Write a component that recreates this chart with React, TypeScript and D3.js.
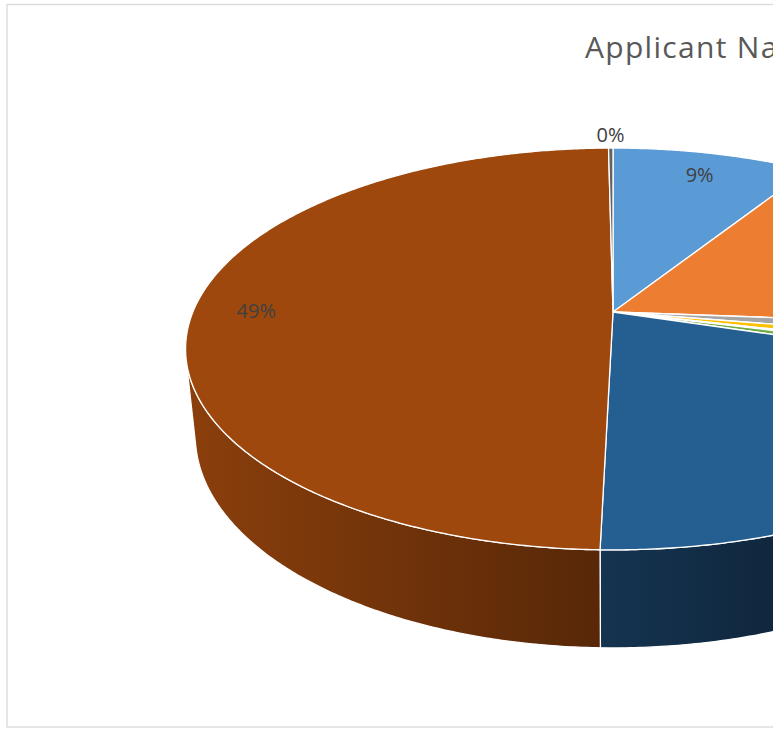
import * as d3 from "d3";

// slice values (percent of applicants), clockwise from 12 o'clock
const categories = ["Cat 1", "Cat 2", "Cat 3", "Cat 4", "Cat 5", "Cat 6", "Cat 7", "Cat 8", "Cat 9"];
const values = [9.0, 17.2, 1.4, 1.0, 0.3, 0.8, 20.7, 49.4, 0.2];
const titleText = "Applicant Nationality";

// office-style palette
const palette = ["#5B9BD5", "#ED7D31", "#A5A5A5", "#FFC000", "#4472C4", "#70AD47", "#255E91", "#9E480E", "#636363"];

const W = 781;
const H = 729;

/* 3d camera settings for the pie */
const cx = 613;
const cy = 312;
const focal = 2025;
const dist = 4.82;
const tilt = Math.asin(0.462);
const thick = 0.235;
const sinT = Math.sin(tilt);
const cosT = Math.cos(tilt);

// theta: clockwise from the back (top of screen), r: radius, y: height (0 top, -thick bottom)
function proj(theta: number, r: number, y: number): [number, number] {
  const X = r * Math.sin(theta);
  const Z = -r * Math.cos(theta);
  const xc = X;
  const yc = y * cosT - Z * sinT;
  const depth = dist - (y * sinT + Z * cosT);
  return [cx + (focal * xc) / depth, cy - (focal * yc) / depth];
}

function arcPoints(a0: number, a1: number, r: number, y: number) {
  const n = Math.max(2, Math.ceil(((a1 - a0) * 180) / Math.PI / 0.5));
  const pts: [number, number][] = [];
  for (let k = 0; k <= n; k++) pts.push(proj(a0 + ((a1 - a0) * k) / n, r, y));
  return pts;
}

function shade(col: string, f: number) {
  const c = d3.rgb(col);
  return d3.rgb(c.r * f, c.g * f, c.b * f).formatHex();
}

export default function App() {
  const pie = d3.pie<number>().sort(null).value((d) => d);
  const arcs = pie(values);
  const total = d3.sum(values);
  const line = d3.line();

  // the rim is only seen where its normal faces the camera
  const k = 1 / (dist * cosT);
  const vis0 = Math.acos(-k);
  const vis1 = 2 * Math.PI - vis0;

  const sides = arcs.map((a, i) => {
    const s0 = Math.max(a.startAngle, vis0);
    const s1 = Math.min(a.endAngle, vis1);
    if (s1 <= s0) return null;
    const top = arcPoints(s0, s1, 1, 0);
    const bot = arcPoints(s0, s1, 1, -thick).reverse();
    return (
      <path
        key={"s" + i}
        d={line([...top, ...bot]) + "Z"}
        fill={`url(#side${i})`}
        stroke="#fff"
        strokeWidth={1.3}
        strokeLinejoin="round"
      />
    );
  });

  const tops = arcs.map((a, i) => {
    const pts = [proj(0, 0, 0), ...arcPoints(a.startAngle, a.endAngle, 1, 0)];
    return (
      <path
        key={"t" + i}
        d={line(pts) + "Z"}
        fill={palette[i]}
        stroke="#fff"
        strokeWidth={1.3}
        strokeLinejoin="round"
      />
    );
  });

  const labels = arcs.map((a, i) => {
    const pct = (values[i] / total) * 100;
    const mid = (a.startAngle + a.endAngle) / 2;
    const r = pct < 3 ? 1.1 : 0.85;
    const [x, y] = proj(mid, r, 0);
    return (
      <text
        key={"l" + i}
        x={x}
        y={y}
        textAnchor="middle"
        dominantBaseline="central"
        fontSize={20}
        fill="#404040"
      >
        {Math.round(pct) + "%"}
      </text>
    );
  });

  return (
    <svg
      width={W}
      height={H}
      style={{ position: "absolute", left: 0, top: 0, background: "#fff" }}
      fontFamily="'Open Sans', sans-serif"
    >
      <defs>
        <clipPath id="cut">
          <rect x={0} y={0} width={773} height={H} />
        </clipPath>
        {palette.map((c, i) => (
          <linearGradient key={i} id={`side${i}`} gradientUnits="userSpaceOnUse" x1={185} x2={773} y1={0} y2={0}>
            <stop offset="0" stopColor={shade(c, 0.88)} />
            <stop offset="1" stopColor={shade(c, 0.42)} />
          </linearGradient>
        ))}
      </defs>
      <g clipPath="url(#cut)">
        <rect x={7} y={4.5} width={900} height={722.5} fill="#fff" stroke="#D9D9D9" strokeWidth={1.3} />
        <text x={585} y={58} fontSize={30} fill="#595959" letterSpacing={1.3}>
          {titleText}
        </text>
        {sides}
        {tops}
        {labels}
      </g>
      <title>{categories.join(", ")}</title>
    </svg>
  );
}
